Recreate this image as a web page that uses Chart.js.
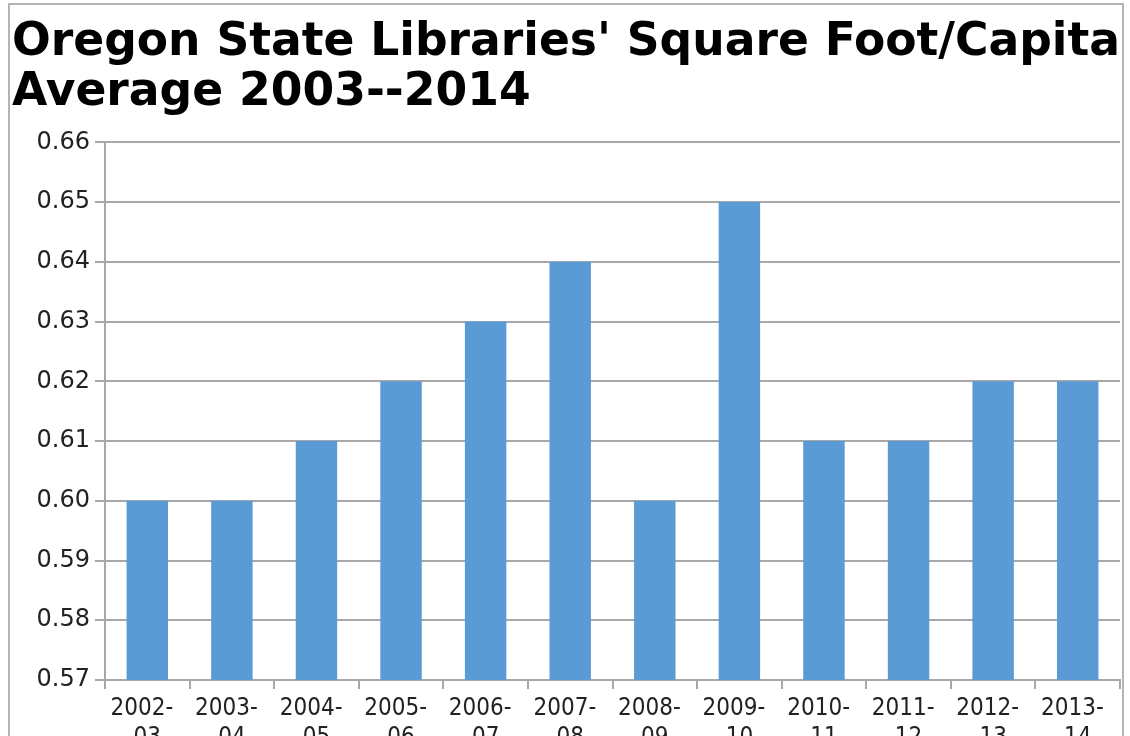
<!DOCTYPE html>
<html>
<head>
<meta charset="utf-8">
<script src="https://cdn.jsdelivr.net/npm/chart.js@4"></script>
<style>
  html, body { margin: 0; padding: 0; background: #fff; overflow: hidden; }
  #frame {
    position: absolute; left: 8px; top: 3px;
    width: 1116px; height: 800px;
    border: 2px solid #b4b4b4; box-sizing: border-box;
  }
</style>
</head>
<body>
<div id="frame"><canvas id="chart"></canvas></div>
<script>
const titleLines = ["Oregon State Libraries' Square Foot/Capita", 'Average 2003--2014'];
// first line carries a trailing en space: the source centres "2002-03" before wrapping
const years = [
  ['2002-\u2002', '03'], ['2003-\u2002', '04'], ['2004-\u2002', '05'], ['2005-\u2002', '06'],
  ['2006-\u2002', '07'], ['2007-\u2002', '08'], ['2008-\u2002', '09'], ['2009-\u2002', '10'],
  ['2010-\u2002', '11'], ['2011-\u2002', '12'], ['2012-\u2002', '13'], ['2013-\u2002', '14'],
];
const sqFtPerCapita = [0.60, 0.60, 0.61, 0.62, 0.63, 0.64, 0.60, 0.65, 0.61, 0.61, 0.62, 0.62];
const yMin = 0.57;
const yMax = 0.66;

const gridGray = '#a8a8a8';

new Chart(document.getElementById('chart'), {
  type: 'bar',
  data: {
    labels: years,
    datasets: [{
      data: sqFtPerCapita,
      backgroundColor: '#5b9bd5',
      barPercentage: 0.49,
      categoryPercentage: 1,
    }]
  },
  options: {
    responsive: true,
    maintainAspectRatio: false,
    animation: false,
    layout: { padding: { left: 2, right: 2, top: 0, bottom: 0 } },
    plugins: {
      legend: { display: false },
      tooltip: { enabled: false },
      title: {
        display: true,
        text: titleLines,
        align: 'start',
        color: '#000',
        font: { family: 'DejaVu Sans', weight: 'bold', size: 45.6, lineHeight: 1.1 },
        padding: { top: 13, bottom: 24 },
      }
    },
    scales: {
      y: {
        min: yMin,
        max: yMax,
        ticks: {
          stepSize: 0.01,
          color: '#222',
          padding: 5,
          font: { family: 'DejaVu Sans', size: 24 },
          callback: v => v.toFixed(2),
        },
        grid: { color: gridGray, lineWidth: 2, tickLength: 10 },
        border: { color: gridGray, width: 2 },
        afterFit: s => { s.width = 93; },
      },
      x: {
        ticks: {
          color: '#222',
          maxRotation: 0,
          padding: 5,
          font: { family: "'DejaVu Sans Condensed', 'DejaVu Sans'", size: 24, lineHeight: 1.22 },
        },
        grid: { drawOnChartArea: false, color: gridGray, lineWidth: 2, tickLength: 9 },
        border: { color: gridGray, width: 2 },
        afterFit: s => { s.height = 121; },
      }
    }
  }
});
</script>
</body>
</html>
